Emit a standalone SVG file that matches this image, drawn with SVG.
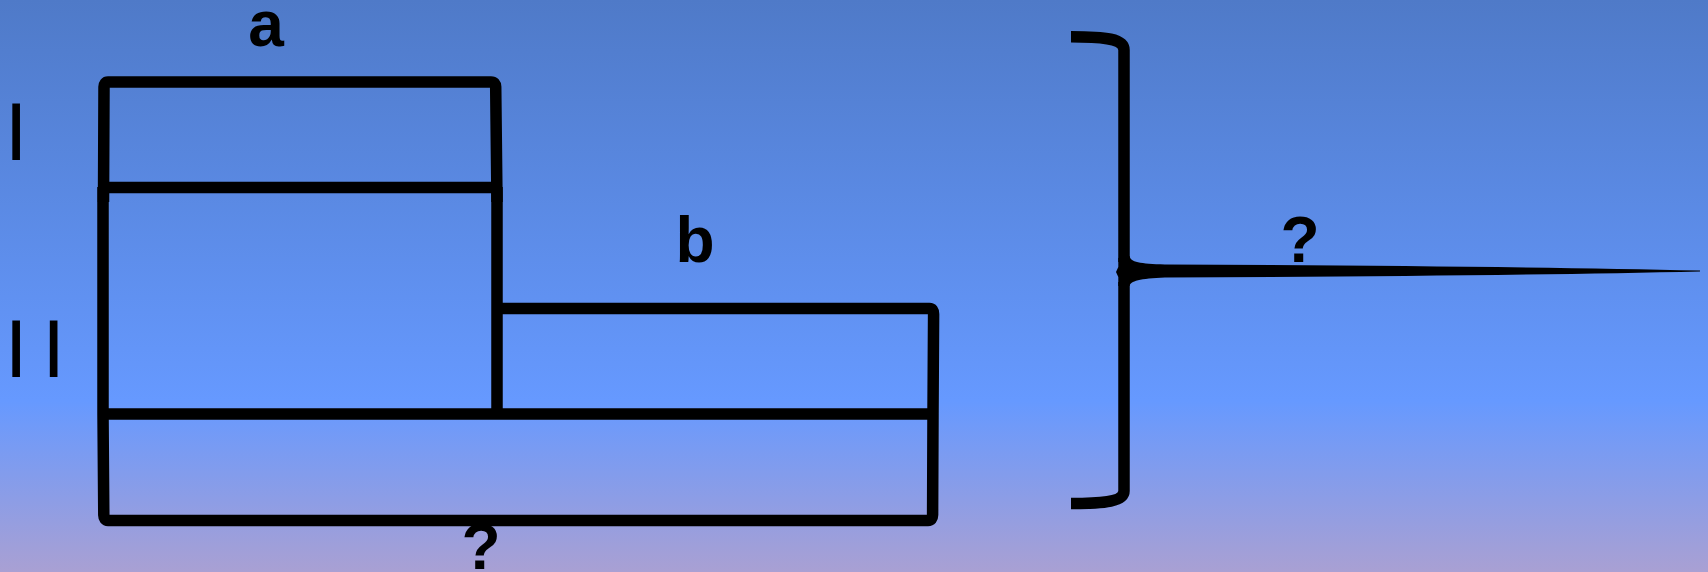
<svg xmlns="http://www.w3.org/2000/svg" width="1708" height="572" viewBox="0 0 1708 572">
  <style>
    .edge { fill: none; stroke: #000; stroke-width: 11.5; stroke-linejoin: miter; stroke-linecap: butt; }
    .lbl { font-family: "Liberation Sans", Arial, sans-serif; font-weight: bold; font-size: 64px; fill: #000; text-anchor: middle; }
    .num { font-family: "Liberation Sans", Arial, sans-serif; font-weight: normal; font-size: 82px; fill: #000; }
  </style>
  <defs>
    <linearGradient id="bg" x1="0" y1="0" x2="0" y2="1">
      <stop offset="0" stop-color="#4f7ac8"/>
      <stop offset="0.7" stop-color="#6699ff"/>
      <stop offset="1" stop-color="#a9a0d3"/>
    </linearGradient>
  </defs>
  <rect x="0" y="0" width="1708" height="572" fill="url(#bg)"/>

  <g id="node-a">
    <path class="edge" d="M 103.5,202 L 104,87 Q 104.2,82 108,82 L 491,82 Q 495.5,82 495.7,87 L 497,202"/>
    <path class="edge" d="M 104,187.5 H 497"/>
    <text class="lbl" x="266" y="46">a</text>
  </g>

  <g id="node-mid">
    <path class="edge" d="M 103,187 V 414 M 497,187 V 414"/>
  </g>

  <g id="node-b">
    <path class="edge" d="M 497,308.5 H 929.5 Q 933.5,308.5 933.6,314 L 933,414"/>
    <text class="lbl" x="695" y="262">b</text>
  </g>

  <g id="node-bottom">
    <path class="edge" d="M 103,414 H 933 M 103,414 L 103.8,515 Q 104,520.5 108,520.5 L 928,520.5 Q 932.5,520.5 932.6,515 L 933,414"/>
    <text class="lbl" x="481" y="569">?</text>
  </g>

  <g id="labels-left">
    <text class="num" x="4.8" y="160">I</text>
    <text class="num" x="4.8 42.3" y="377">II</text>
  </g>

  <g id="connectors">
    <path class="edge" d="M 1071,36.7 C 1106,36.7 1124,39 1124,50 L 1124,262"/>
    <path class="edge" d="M 1124,282 L 1124,491 C 1124,501 1106,503.5 1071,503.5"/>
    <path fill="#000" d="M 1118.3,258 L 1118.3,267 L 1116,272 L 1118.3,277 L 1118.3,286 L 1129.7,286 C 1130,281 1140,278.5 1165,277.5 Q 1500,276 1700,271.4 L 1700,270.6 Q 1500,266 1165,264.5 C 1140,263.8 1130,262 1129.7,256 Z"/>
    <text class="lbl" x="1300" y="262">?</text>
  </g>
</svg>
